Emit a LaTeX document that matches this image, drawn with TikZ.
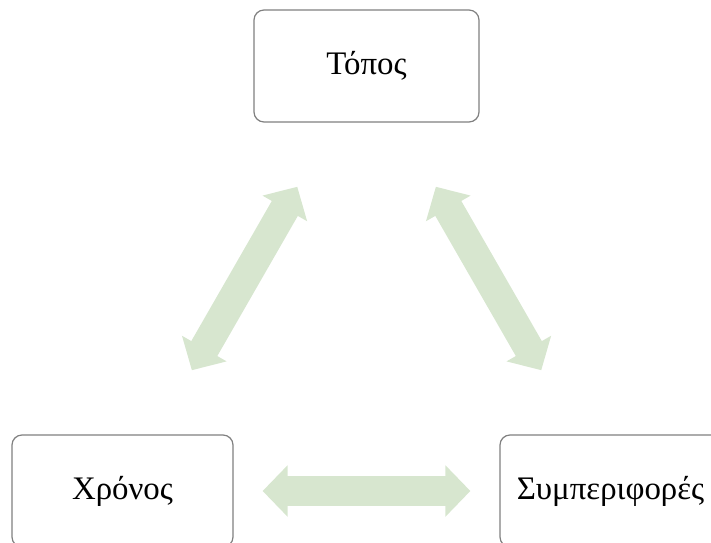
\documentclass[tikz,border=0pt]{standalone}
\usepackage{fontspec}
\setmainfont{Liberation Serif}
\usetikzlibrary{positioning,arrows.meta}
\definecolor{arrowgreen}{RGB}{215,230,207}
\definecolor{boxgray}{RGB}{128,128,128}

\begin{document}
\begin{tikzpicture}[
x=1bp, y=1bp,
roundbox/.style={rectangle, rounded corners=10bp, draw=boxgray, line width=1.2bp, fill=white, minimum width=225bp, minimum height=112bp, inner sep=0pt, font=\fontsize{33}{39}\selectfont},
lowbox/.style={roundbox, minimum width=221bp},
bigarrow/.style={draw=arrowgreen, line width=30bp, {Triangle[length=25bp,width=50bp]}-{Triangle[length=25bp,width=50bp]}},
on grid
]
\useasboundingbox (0,0) rectangle (711,543);
\clip (0,0) rectangle (711,543);
%Nodes
\node[roundbox] (topos) at (366.5,477) {Τόπος};
\node[lowbox] (xronos) [below left=425bp and 244bp of topos] {Χρόνος};
\node[lowbox] (symp) [right=488bp of xronos] {Συμπεριφορές};
%Arrows
\draw[bigarrow, shorten <=74bp, shorten >=74bp] (xronos) -- (topos);
\draw[bigarrow, shorten <=74bp, shorten >=74bp] (topos) -- (symp);
\draw[bigarrow, shorten <=29bp, shorten >=29bp] (xronos) -- (symp);
\end{tikzpicture}
\end{document}
